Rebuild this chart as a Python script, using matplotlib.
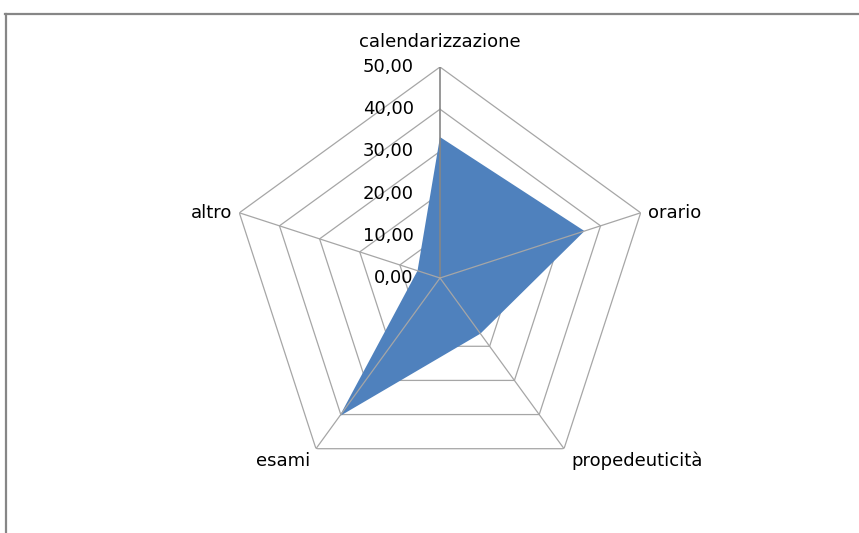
import numpy as np
import matplotlib.pyplot as plt
from matplotlib.lines import Line2D

plt.rcParams['font.family'] = ['DejaVu Sans']

#%% - data
categories = ['calendarizzazione', 'orario', 'propedeuticità', 'esami', 'altro']
values = [33.4, 36.0, 16.3, 40.5, 5.6]
rings = [10, 20, 30, 40, 50]
ring_labels = ['0,00', '10,00', '20,00', '30,00', '40,00', '50,00']

#%% - figure
W, H = 859, 533
fig = plt.figure(figsize=(W / 100, H / 100), dpi=100)

cx, cy, R = 440, 278, 211  # pixel centre/radius of the plot
ax = fig.add_axes([(cx - R) / W, (H - cy - R) / H, 2 * R / W, 2 * R / H],
                  projection='polar')
ax.set_theta_offset(np.pi / 2)
ax.set_theta_direction(-1)
ax.set_ylim(0, 50)
ax.grid(False)
ax.spines['polar'].set_visible(False)
ax.set_xticks([])
ax.set_yticks([])
ax.patch.set_alpha(0)

n = len(categories)
theta = np.linspace(0, 2 * np.pi, n, endpoint=False)
theta_closed = np.append(theta, theta[0])

# pentagon rings under the fill
for r in rings:
    ax.plot(theta_closed, [r] * (n + 1), color='#a6a6a6', lw=0.9, zorder=1)

vals_closed = values + [values[0]]
ax.fill(theta_closed, vals_closed, color='#4f81bd', lw=0, zorder=2)

# spokes on top
for i, t in enumerate(theta):
    c = '#868686' if i == 0 else '#a6a6a6'
    ax.plot([t, t], [0, 50], color=c, lw=0.9 if i else 1.2, zorder=3)

# category labels
offsets = [((0, 18), 'center'), ((5, 0), 'left'), ((5, -9), 'left'),
           ((-4, -9), 'right'), ((-5, 0), 'right')]
for t, lab, (off, ha) in zip(theta, categories, offsets):
    ax.annotate(lab, (t, 50), xytext=off, textcoords='offset points',
                ha=ha, va='center', fontsize=13, color='#000000',
                annotation_clip=False)

# value axis labels
for r, lab in zip([0] + rings, ring_labels):
    ax.annotate(lab, (0, r), xytext=(-19, 0), textcoords='offset points',
                ha='right', va='center', fontsize=13, annotation_clip=False)

# chart area border (top and left edges visible)
fx = lambda px: px / W
fy = lambda py: 1 - py / H
fig.add_artist(Line2D([fx(5), 1], [fy(14), fy(14)], color='#868686', lw=1.6))
fig.add_artist(Line2D([fx(5.5), fx(5.5)], [fy(14), 0], color='#868686', lw=1.6))

fig.savefig('out.png', dpi=100)
